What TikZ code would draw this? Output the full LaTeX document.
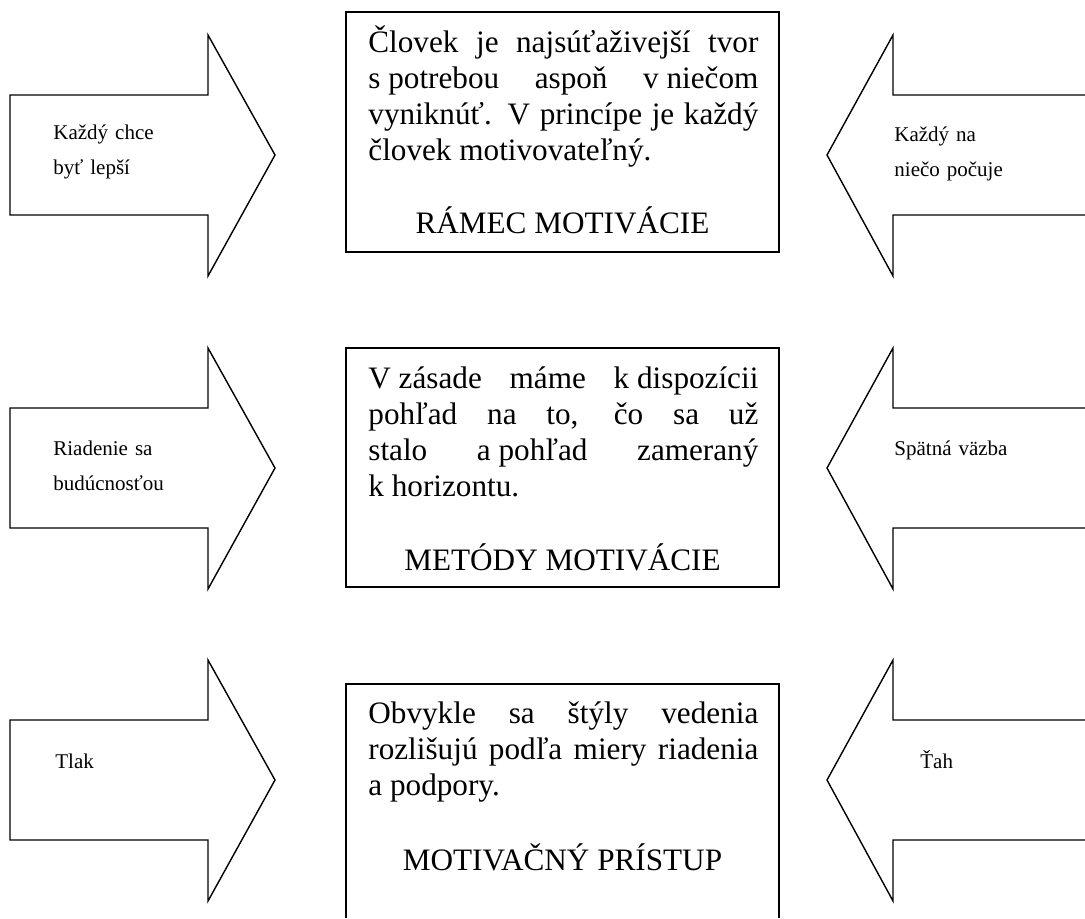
\documentclass[tikz,border=0pt]{standalone}
\usepackage{fontspec}
\setmainfont{Liberation Serif}

\begin{document}
\begin{tikzpicture}[x=0.5pt, y=-0.5pt, outline/.style={draw=black, line width=0.7pt},
                    boxtext/.style={anchor=base west, inner sep=0pt, text width=195pt, align=justify, font={\fontsize{15.6pt}{18pt}\selectfont\hyphenpenalty=10000\relax\tolerance=9999\relax}},
                    boxtitle/.style={anchor=base, inner sep=0pt, font=\fontsize{15.6pt}{18pt}\selectfont},
                    arrowlabel/.style={anchor=base west, inner sep=0pt, text width=90pt, align=left, font=\fontsize{10.5pt}{17.5pt}\selectfont}]

                      \useasboundingbox (0,0) rectangle (1085,918);

                      %arrows, left and right
                      \foreach \t in {35,348,660}{
                        \draw[outline] (10,\t+60) -- (208,\t+60) -- (208,\t) -- (275,\t+120) -- (208,\t+241) -- (208,\t+180) -- (10,\t+180) -- cycle;
                        \draw[outline] (1085,\t+60) -- (893,\t+60) -- (893,\t) -- (827,\t+120) -- (893,\t+241) -- (893,\t+180) -- (1085,\t+180);
                      }

                      %boxes
                      \draw[outline] (346,12) rectangle (779,252);
                      \draw[outline] (346,348) rectangle (779,587);
                      \draw[outline] (346,918) -- (346,684) -- (779,684) -- (779,918);

                      %box texts
                      \node[boxtext] (ramec) at (368,52) {Človek je najsúťaživejší tvor\linebreak \mbox{s potrebou} aspoň \mbox{v niečom}\linebreak vyniknúť. V princípe je každý\linebreak človek motivovateľný.};
                      \node[boxtitle] (ramectitle) at (562.5,233) {RÁMEC MOTIVÁCIE};

                      \node[boxtext] (metody) at (368,388) {\mbox{V zásade} máme \mbox{k dispozícii}\linebreak pohľad na to, čo sa už\linebreak stalo \mbox{a pohľad} zameraný\linebreak \mbox{k horizontu.}};
                      \node[boxtitle] (metodytitle) at (562.5,570) {METÓDY MOTIVÁCIE};

                      \node[boxtext] (pristup) at (368,723) {Obvykle sa štýly vedenia\linebreak rozlišujú podľa miery riadenia\linebreak a podpory.};
                      \node[boxtitle] (pristuptitle) at (562.5,870) {MOTIVAČNÝ PRÍSTUP};

                      %arrow labels
                      \node[arrowlabel] (lepsi) at (53,139) {Každý chce\\byť lepší};
                      \node[arrowlabel] (buducnost) at (53,455) {Riadenie sa\\budúcnosťou};
                      \node[arrowlabel] (tlak) at (55,768) {Tlak};
                      \node[arrowlabel] (pocuje) at (894,141) {Každý na\\niečo počuje};
                      \node[arrowlabel] (vazba) at (894,455) {Spätná väzba};
                      \node[arrowlabel] (tah) at (920,768) {Ťah};

                    \end{tikzpicture}
\end{document}
